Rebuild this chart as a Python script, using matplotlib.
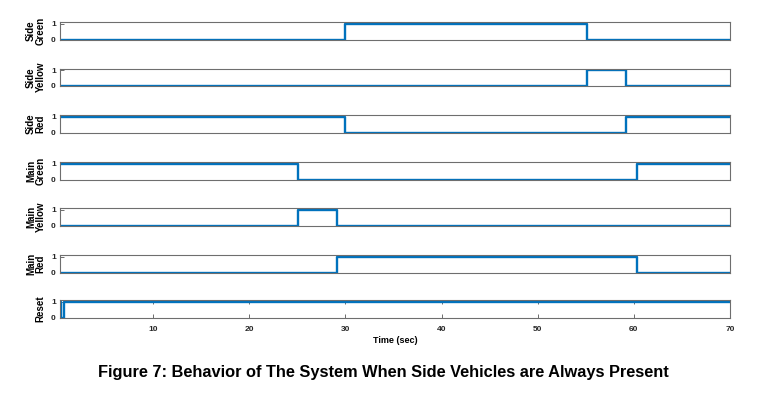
import numpy as np
import matplotlib
matplotlib.use('Agg')
import matplotlib.pyplot as plt

plt.rcParams['font.family'] = ['Liberation Sans', 'DejaVu Sans']

# signal names (top to bottom)
labels = ['Side\nGreen', 'Side\nYellow', 'Side\nRed', 'Main\nGreen', 'Main\nYellow', 'Main\nRed', 'Reset']

# switching times (sec) and the value after each switch
side_green_t = [0, 30.0, 55.1, 70]
side_green_v = [0, 1, 0, 0]
side_yellow_t = [0, 55.1, 59.2, 70]
side_yellow_v = [0, 1, 0, 0]
side_red_t = [0, 30.0, 59.2, 70]
side_red_v = [1, 0, 1, 1]
main_green_t = [0, 25.1, 60.3, 70]
main_green_v = [1, 0, 1, 1]
main_yellow_t = [0, 25.1, 29.1, 70]
main_yellow_v = [0, 1, 0, 0]
main_red_t = [0, 29.1, 60.3, 70]
main_red_v = [0, 1, 0, 0]
reset_t = [0, 0.4, 0.7, 70]
reset_v = [1, 0, 1, 1]

signals = [(side_green_t, side_green_v), (side_yellow_t, side_yellow_v),
           (side_red_t, side_red_v), (main_green_t, main_green_v),
           (main_yellow_t, main_yellow_v), (main_red_t, main_red_v),
           (reset_t, reset_v)]

xticks = [10, 20, 30, 40, 50, 60, 70]

W, H = 767, 393
fig = plt.figure(figsize=(W / 100, H / 100), dpi=100)

row_tops = [22, 68.5, 115, 162, 208, 255, 300]
ax_h = 17.5
left, right = 60, 730

for i, (lab, (t, v)) in enumerate(zip(labels, signals)):
    top = row_tops[i]
    ax = fig.add_axes([left / W, 1 - (top + ax_h) / H, (right - left) / W, ax_h / H])
    ax.plot(t, v, drawstyle='steps-post', color='#0072BD', lw=1.7)
    ax.set_xlim(0.3, 70)
    ax.set_ylim(0, 1.1)
    ax.set_yticks([0, 1])
    ax.set_yticklabels(['0', '1'], fontsize=6, fontweight='bold', color='#262626')
    ax.tick_params(axis='y', direction='in', length=3, width=0.6, pad=3, colors='#555555',
                   labelcolor='#262626')
    for s in ax.spines.values():
        s.set_color('#6e6e6e')
        s.set_linewidth(0.8)
    ax.set_ylabel(lab, fontsize=7, fontweight='bold', labelpad=4, linespacing=0.95)
    if i == len(labels) - 1:
        ax.set_xticks(xticks)
        ax.set_xticklabels([str(x) for x in xticks], fontsize=6, fontweight='bold', color='#262626')
        ax.tick_params(axis='x', direction='in', length=3, width=0.6, top=True, colors='#555555',
                       labelcolor='#262626', pad=6)
        ax.set_xlabel('Time (sec)', fontsize=6.5, fontweight='bold', labelpad=2)
    else:
        ax.set_xticks([])

fig.text(0.5, 1 - 373 / H, 'Figure 7: Behavior of The System When Side Vehicles are Always Present',
         ha='center', va='center', fontsize=11.8, fontweight='bold')

fig.savefig('out.png', dpi=100)
